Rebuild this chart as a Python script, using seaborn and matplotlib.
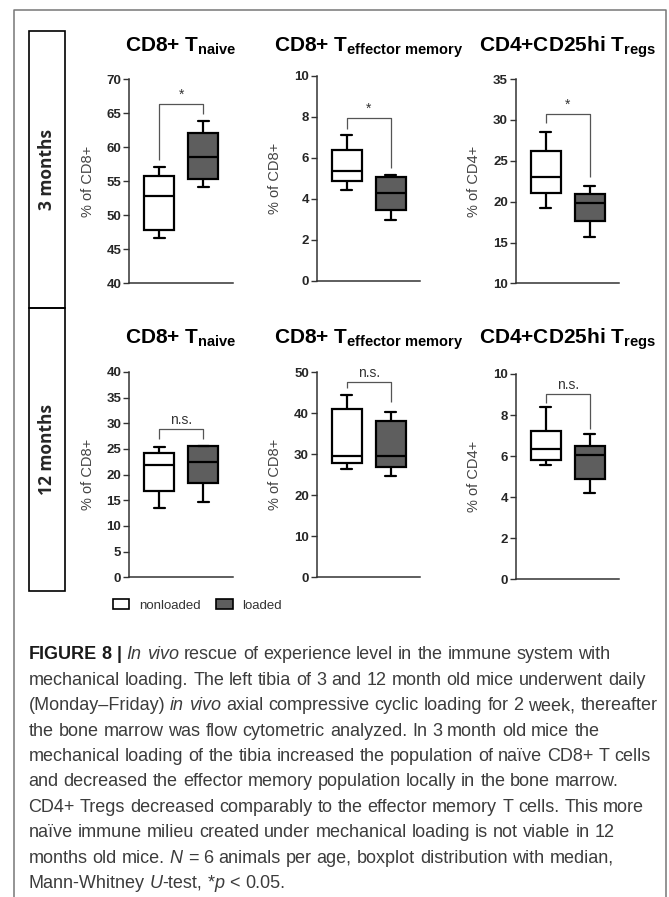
import re
import numpy as np
import pandas as pd
import matplotlib
matplotlib.use("Agg")
import matplotlib.pyplot as plt
from matplotlib.patches import Patch, Rectangle
from matplotlib.lines import Line2D
import seaborn as sns

# ─────────────────────────────────────────────
# DATA  (min, Q1, median, Q3, max)
# ─────────────────────────────────────────────
GROUPS = ["nonloaded", "loaded"]
AGES = ["3 months", "12 months"]
TITLES = [r"$\mathbf{CD8{+}\ T_{naive}}$",
          r"$\mathbf{CD8{+}\ T_{effector\ memory}}$",
          r"$\mathbf{CD4{+}CD25hi\ T_{regs}}$"]
YLABELS = ["% of CD8+", "% of CD8+", "% of CD4+"]

naive_3m_nonloaded = [46.7, 47.85, 52.9, 55.8, 57.1]
naive_3m_loaded = [54.2, 55.4, 58.5, 62.1, 63.9]
tem_3m_nonloaded = [4.42, 4.86, 5.36, 6.38, 7.1]
tem_3m_loaded = [2.95, 3.45, 4.3, 5.08, 5.17]
treg_3m_nonloaded = [19.2, 21.1, 23.07, 26.2, 28.5]
treg_3m_loaded = [15.7, 17.6, 19.8, 21.0, 21.9]

naive_12m_nonloaded = [13.5, 16.9, 21.8, 24.2, 25.4]
naive_12m_loaded = [14.7, 18.3, 22.5, 25.6, 25.6]
tem_12m_nonloaded = [26.4, 27.9, 29.7, 41.0, 44.5]
tem_12m_loaded = [24.7, 26.8, 29.7, 38.1, 40.3]
treg_12m_nonloaded = [5.57, 5.8, 6.37, 7.24, 8.38]
treg_12m_loaded = [4.2, 4.9, 6.07, 6.48, 7.09]

STATS = [
    [[naive_3m_nonloaded, naive_3m_loaded],
     [tem_3m_nonloaded, tem_3m_loaded],
     [treg_3m_nonloaded, treg_3m_loaded]],
    [[naive_12m_nonloaded, naive_12m_loaded],
     [tem_12m_nonloaded, tem_12m_loaded],
     [treg_12m_nonloaded, treg_12m_loaded]],
]

YLIMS = [[(40, 70), (0, 10), (10, 35)], [(0, 40), (0, 50), (0, 10)]]
YSTEPS = [[5, 2, 5], [5, 10, 2]]

# significance bracket: (top, left leg end, right leg end)
BRACKETS = [
    [(66.4, 58.1, 64.9), (7.95, 7.4, 5.5), (30.7, 29.6, 23.0)],
    [(28.9, 26.9, 26.9), (47.7, 46.1, 42.7), (9.03, 8.6, 7.3)],
]
SIG = [["*", "*", "*"], ["n.s.", "n.s.", "n.s."]]

CAPTION_LINES = [
    "#FIGURE 8 |# ~In vivo~ rescue of experience level in the immune system with",
    "mechanical loading. The left tibia of 3 and 12 month old mice underwent daily",
    "(Monday\u2013Friday) ~in vivo~ axial compressive cyclic loading for 2 week, thereafter",
    "the bone marrow was flow cytometric analyzed. In 3 month old mice the",
    "mechanical loading of the tibia increased the population of na\u00efve CD8+ T cells",
    "and decreased the effector memory population locally in the bone marrow.",
    "CD4+ Tregs decreased comparably to the effector memory T cells. This more",
    "na\u00efve immune milieu created under mechanical loading is not viable in 12",
    "months old mice. ~N~ = 6 animals per age, boxplot distribution with median,",
    "Mann-Whitney ~U~-test, *~p~ < 0.05.",
]

# ─────────────────────────────────────────────
# STYLE / LAYOUT
# ─────────────────────────────────────────────
W, H = 669, 897
PAL = {"nonloaded": "white", "loaded": "#5e5e5e"}

sns.set_theme(style="ticks")
plt.rcParams.update({
    "font.family": ["Liberation Sans", "DejaVu Sans"],
    "mathtext.fontset": "custom",
    "mathtext.rm": "Liberation Sans",
    "mathtext.bf": "Liberation Sans:bold",
    "mathtext.it": "Liberation Sans:italic",
    "axes.edgecolor": "#333333",
    "axes.linewidth": 1.1,
})

COL_X = [129, 316.5, 515.5]
AX_W = 103.5
ROW_Y = [[(79, 283.5), (75.7, 280.7), (79, 283.5)],
         [(372, 577.3), (372.3, 577.3), (374, 579.3)]]
TITLE_BASE = [52, 344]

fig = plt.figure(figsize=(W / 100, H / 100), dpi=100)
fig.patch.set_facecolor("white")

for r in range(2):
    for c in range(3):
        top, bot = ROW_Y[r][c]
        ax = fig.add_axes([COL_X[c] / W, 1 - bot / H, AX_W / W, (bot - top) / H])
        vals = STATS[r][c]
        df = pd.DataFrame({"group": np.repeat(GROUPS, len(vals[0])),
                           "value": np.concatenate(vals)})
        sns.boxplot(data=df, x="group", y="value", hue="group", order=GROUPS,
                    hue_order=GROUPS, palette=PAL, saturation=1, whis=(0, 100),
                    width=0.68, linewidth=1.6, linecolor="black", showfliers=False,
                    legend=False, ax=ax, capwidths=0.25)
        ax.set_facecolor("none")
        ax.set_xlim(-0.68, 1.66)
        lo, hi = YLIMS[r][c]
        ax.set_ylim(lo, hi)
        ax.set_yticks(np.arange(lo, hi + 0.01, YSTEPS[r][c]))
        ax.set_xticks([])
        ax.set_xlabel("")
        ax.tick_params(axis="y", length=4, width=1, color="#333333",
                       labelsize=9.5, pad=1.5)
        plt.setp(ax.get_yticklabels(), fontweight="bold")
        sns.despine(ax=ax)
        ax.set_ylabel(YLABELS[c], fontsize=10.5, color="#444444")
        ax.yaxis.set_label_coords(-0.40, 0.5)
        ax.yaxis.label.set_va("center")

        # significance bracket
        btop, bl, br = BRACKETS[r][c]
        ax.plot([0, 0, 1, 1], [bl, btop, btop, br], color="#555555", lw=0.9,
                clip_on=False, solid_capstyle="butt")
        ax.annotate(SIG[r][c], (0.5, btop), xytext=(0, 1.5), textcoords="offset points",
                    ha="center", va="bottom", fontsize=10, color="#333333")

        fig.text((COL_X[c] + AX_W / 2) / W, 1 - TITLE_BASE[r] / H, TITLES[c],
                 ha="center", va="baseline", fontsize=15, color="black")

# age boxes on the left
for (y0, y1), age in zip([(31, 308), (308, 591)], AGES):
    fig.add_artist(Rectangle((29 / W, 1 - y1 / H), 36 / W, (y1 - y0) / H,
                             transform=fig.transFigure, fill=False, lw=1.2, ec="black"))
    fig.text(47 / W, 1 - (y0 + y1) / 2 / H, age, rotation=90, ha="center", va="center",
             fontsize=12.5, fontweight="bold", family=["Open Sans", "DejaVu Sans"])

# outer frame
fig.add_artist(Line2D([14 / W, 14 / W, 666 / W, 666 / W], [0, 1 - 10 / H, 1 - 10 / H, 0],
                      transform=fig.transFigure, color="#777777", lw=1.1))

# legend
handles = [Patch(facecolor=PAL[g], edgecolor="black", lw=1.2) for g in GROUPS]
leg = fig.legend(handles, GROUPS, loc="center left", bbox_to_anchor=(113 / W, 1 - 605.5 / H),
                 frameon=False, ncol=2, fontsize=9.5, handlelength=1.25, handleheight=0.7,
                 handletextpad=0.7, columnspacing=1.2, borderpad=0, borderaxespad=0)
for t in leg.get_texts():
    t.set_color("#333333")

# caption with inline bold (#) and italic (~) runs
renderer = fig.canvas.get_renderer()
CAP_SIZE = 12.95
space_w = CAP_SIZE * 100 / 72 * 0.278
for i, line in enumerate(CAPTION_LINES):
    x = 28.5
    y = 659.3 + i * 25.4
    italic = bold = False
    for tok in re.split(r"([~#])", line):
        if tok == "~":
            italic = not italic
            continue
        if tok == "#":
            bold = not bold
            continue
        for j, word in enumerate(tok.split(" ")):
            if j > 0:
                x += space_w
            if word:
                t = fig.text(x / W, 1 - y / H, word, fontsize=CAP_SIZE, va="baseline",
                             color="#1a1a1a" if bold else "#3c3c3c",
                             style="italic" if italic else "normal",
                             fontweight="bold" if bold else "normal")
                x += t.get_window_extent(renderer).width

fig.savefig("out.png", dpi=100)
